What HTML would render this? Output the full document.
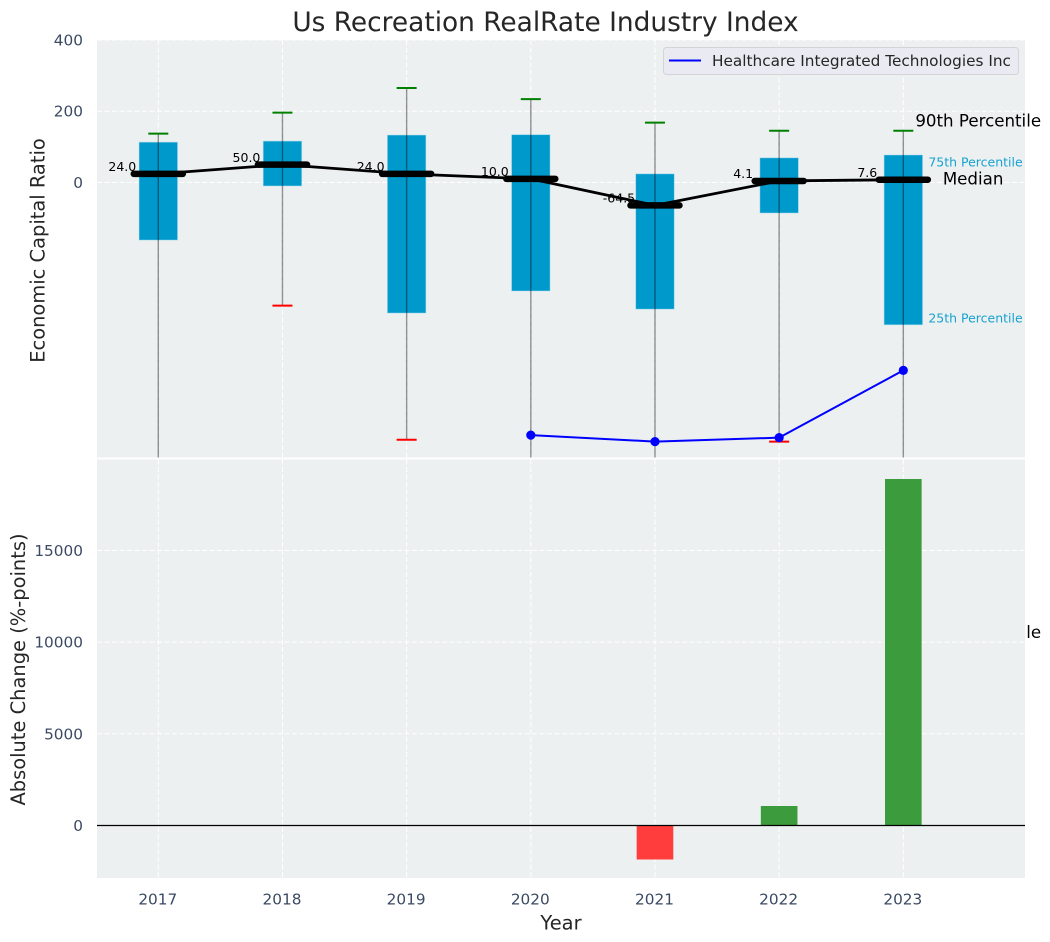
<!DOCTYPE html>
<html>
<head>
<meta charset="utf-8">
<title>Us Recreation RealRate Industry Index</title>
<style>
html,body{margin:0;padding:0;background:#fff;}
svg{display:block;font-family:"DejaVu Sans","Liberation Sans",sans-serif;}
</style>
</head>
<body>
<svg id="chart" xmlns="http://www.w3.org/2000/svg" width="1050" height="942" viewBox="0 0 1050 942">
  <defs>
    <clipPath id="clip-top"><rect x="97" y="40" width="928" height="417.5"/></clipPath>
    <clipPath id="clip-bottom"><rect x="97" y="459.5" width="928" height="418.5"/></clipPath>
  </defs>
  <rect x="0" y="0" width="1050" height="942" fill="#ffffff"/>
  <text x="545.5" y="31" text-anchor="middle" font-size="26.4" fill="#262626">Us Recreation RealRate Industry Index</text>
  <g id="top-panel">
    <rect x="97" y="40" width="928" height="417.5" fill="#ecf0f1"/>
    <g id="top-grid"></g>
    <g id="top-marks" clip-path="url(#clip-top)"></g>
    <g id="top-notes"></g>
    <g id="top-ticks"></g>
  </g>
  <g id="bottom-panel">
    <rect x="97" y="459.5" width="928" height="418.5" fill="#ecf0f1"/>
    <g id="bottom-grid"></g>
    <g id="bottom-marks" clip-path="url(#clip-bottom)"></g>
    <g id="bottom-ticks"></g>
    <g id="x-ticks"></g>
  </g>
  <g>
    <rect x="663.5" y="47.5" width="355" height="27" rx="3" fill="#eaeaf2" fill-opacity="0.9" stroke="#d4d4d8" stroke-width="1"/>
    <line x1="669" y1="60.5" x2="701" y2="60.5" stroke="#0000ff" stroke-width="2"/>
    <text x="712" y="66" font-size="15.3" fill="#262626">Healthcare Integrated Technologies Inc</text>
  </g>
  <text transform="translate(44.5 250.5) rotate(-90)" text-anchor="middle" font-size="19.44" fill="#262626">Economic Capital Ratio</text>
  <text transform="translate(25 669.5) rotate(-90)" text-anchor="middle" font-size="19.44" fill="#262626">Absolute Change (%-points)</text>
  <text x="561" y="929.5" text-anchor="middle" font-size="19.44" fill="#262626">Year</text>
</svg>
<script>
const years = [2017, 2018, 2019, 2020, 2021, 2022, 2023];
const p90 = [137, 196, 265, 234, 168, 145, 145];
const p75 = [113, 116, 133, 134, 24, 69, 77];
const medians = [24.0, 50.0, 24.0, 10.0, -64.5, 4.1, 7.6];
const p25 = [-162, -10, -367, -305, -356, -86, -400];
const p10 = [-900, -346, -723, -850, -1000, -728, -1293];
const companyRatio = [null, null, null, -710, -728, -717, -528];
const absoluteChange = [null, null, null, null, -1854, 1063, 18894];
const ratioTicks = [0, 200, 400];
const changeTicks = [0, 5000, 10000, 15000];

const NS = 'http://www.w3.org/2000/svg';
const TICK_COLOR = '#3b4a63';
function xScale(year) { return 158.3 + (year - 2017) * 124.17; }
function yTop(v) { return 182.4 - v * 0.356; }
function yBottom(v) { return 825.5 - v * 0.01834; }
function widthOf(years_) { return years_ * 124.17; }
function mk(parentId, tag, attrs, text) {
  const el = document.createElementNS(NS, tag);
  for (const k in attrs) el.setAttribute(k, attrs[k]);
  if (text !== undefined) el.textContent = text;
  document.getElementById(parentId).appendChild(el);
  return el;
}

/* grids and y ticks */
ratioTicks.forEach(function (t) {
  const g = mk('top-grid', 'line', {x1: 97, x2: 1025, y1: yTop(t), y2: yTop(t), stroke: '#ffffff', 'stroke-width': 1, 'stroke-dasharray': '5 2.5'});
  
  
  const l = mk('top-ticks', 'text', {x: 83, y: yTop(t) + 5.5, 'text-anchor': 'end', 'font-size': 15.3, fill: TICK_COLOR}, String(t));
  
  
});
changeTicks.forEach(function (t) {
  const g = mk('bottom-grid', 'line', {x1: 97, x2: 1025, y1: yBottom(t), y2: yBottom(t), stroke: '#ffffff', 'stroke-width': 1, 'stroke-dasharray': '5 2.5'});
  
  
  const l = mk('bottom-ticks', 'text', {x: 83, y: yBottom(t) + 5.5, 'text-anchor': 'end', 'font-size': 15.3, fill: TICK_COLOR}, String(t));
  
  
});
years.forEach(function (yr) {
  const x = xScale(yr);
  const a = mk('top-grid', 'line', {x1: x, x2: x, y1: 40, y2: 457.5, stroke: '#ffffff', 'stroke-width': 1, 'stroke-dasharray': '5 2.5'});
  
  
  const b = mk('bottom-grid', 'line', {x1: x, x2: x, y1: 459.5, y2: 878, stroke: '#ffffff', 'stroke-width': 1, 'stroke-dasharray': '5 2.5'});
  
  
  const l = mk('x-ticks', 'text', {x: x - 0.5, y: 904.5, 'text-anchor': 'middle', 'font-size': 15.3, fill: TICK_COLOR}, String(yr));
  
  
});

/* boxes */
years.forEach(function (yr, i) {
  const x = xScale(yr);
  const w = widthOf(0.31);
  const box = mk('top-marks', 'rect', {x: x - w / 2, y: yTop(p75[i]), width: w, height: yTop(p25[i]) - yTop(p75[i]), fill: '#0099cc', stroke: '#a8dcee', 'stroke-width': 0.7, 'stroke-opacity': 0.7});
  
  
  const wh = mk('top-marks', 'line', {x1: x, x2: x, y1: yTop(p90[i]), y2: yTop(p10[i]), stroke: '#000000', 'stroke-opacity': 0.42, 'stroke-width': 1.4});
  
  
  const hi = mk('top-marks', 'line', {x1: x - 10, x2: x + 10, y1: yTop(p90[i]), y2: yTop(p90[i]), stroke: '#008000', 'stroke-width': 2});
  
  
  const lo = mk('top-marks', 'line', {x1: x - 10, x2: x + 10, y1: yTop(p10[i]), y2: yTop(p10[i]), stroke: '#ff0000', 'stroke-width': 2});
  
  
});

/* median value labels, drawn under the median strokes */
years.forEach(function (yr, i) {
  const t = mk('top-marks', 'text', {x: xScale(yr) - 36, y: yTop(medians[i]) - 2.8, 'text-anchor': 'middle', 'font-size': 12.5, fill: '#000000'}, medians[i].toFixed(1));
  
  
});

/* median connecting line and thick medians */
const medianPath = mk('top-marks', 'polyline', {points: years.map(function (yr, i) { return xScale(yr) + ',' + yTop(medians[i]); }).join(' '), fill: 'none', stroke: '#000000', 'stroke-width': 2.8, 'stroke-linejoin': 'round'});


years.forEach(function (yr, i) {
  const x = xScale(yr);
  const m = mk('top-marks', 'line', {x1: x - 24.5, x2: x + 24.5, y1: yTop(medians[i]), y2: yTop(medians[i]), stroke: '#000000', 'stroke-width': 6.5, 'stroke-linecap': 'round'});
  
  
});

/* company series */
const companyPoints = [];
years.forEach(function (yr, i) {
  if (companyRatio[i] !== null) companyPoints.push(xScale(yr) + ',' + yTop(companyRatio[i]));
});
const companyLine = mk('top-marks', 'polyline', {points: companyPoints.join(' '), fill: 'none', stroke: '#0000ff', 'stroke-width': 2});


years.forEach(function (yr, i) {
  if (companyRatio[i] === null) return;
  const c = mk('top-marks', 'circle', {cx: xScale(yr), cy: yTop(companyRatio[i]), r: 4.6, fill: '#0000ff'});
  
  
});

/* annotations on the last year; the 10th percentile note sits behind the lower panel */
const last = years.length - 1;
const lastX = xScale(years[last]);
const n90 = mk('top-notes', 'text', {x: lastX + 12, y: yTop(p90[last]) - 4.5, 'font-size': 16.67, fill: '#000000'}, '90th Percentile');


const n75 = mk('top-notes', 'text', {x: lastX + 25, y: yTop(p75[last]) + 11.5, 'font-size': 12.5, fill: '#0099cc', 'fill-opacity': 0.9}, '75th Percentile');


const nMed = mk('top-notes', 'text', {x: lastX + 39.5, y: yTop(medians[last]) + 5, 'font-size': 16.67, fill: '#000000'}, 'Median');


const n25 = mk('top-notes', 'text', {x: lastX + 25, y: yTop(p25[last]) - 2.5, 'font-size': 12.5, fill: '#0099cc', 'fill-opacity': 0.9}, '25th Percentile');


const n10 = mk('top-notes', 'text', {x: lastX + 12, y: yTop(p10[last]) - 4.5, 'font-size': 16.67, fill: '#000000'}, '10th Percentile');



/* change bars */
years.forEach(function (yr, i) {
  const v = absoluteChange[i];
  if (v === null) return;
  const w = widthOf(0.295);
  const y0 = yBottom(0);
  const y1 = yBottom(v);
  const bar = mk('bottom-marks', 'rect', {x: xScale(yr) - w / 2, y: Math.min(y0, y1), width: w, height: Math.abs(y1 - y0), fill: v >= 0 ? '#3c9b3c' : '#ff3d3d'});
  
  
});
const zeroLine = mk('bottom-marks', 'line', {x1: 97, x2: 1025, y1: yBottom(0), y2: yBottom(0), stroke: '#000000', 'stroke-width': 1.2});


</script>
</body>
</html>
